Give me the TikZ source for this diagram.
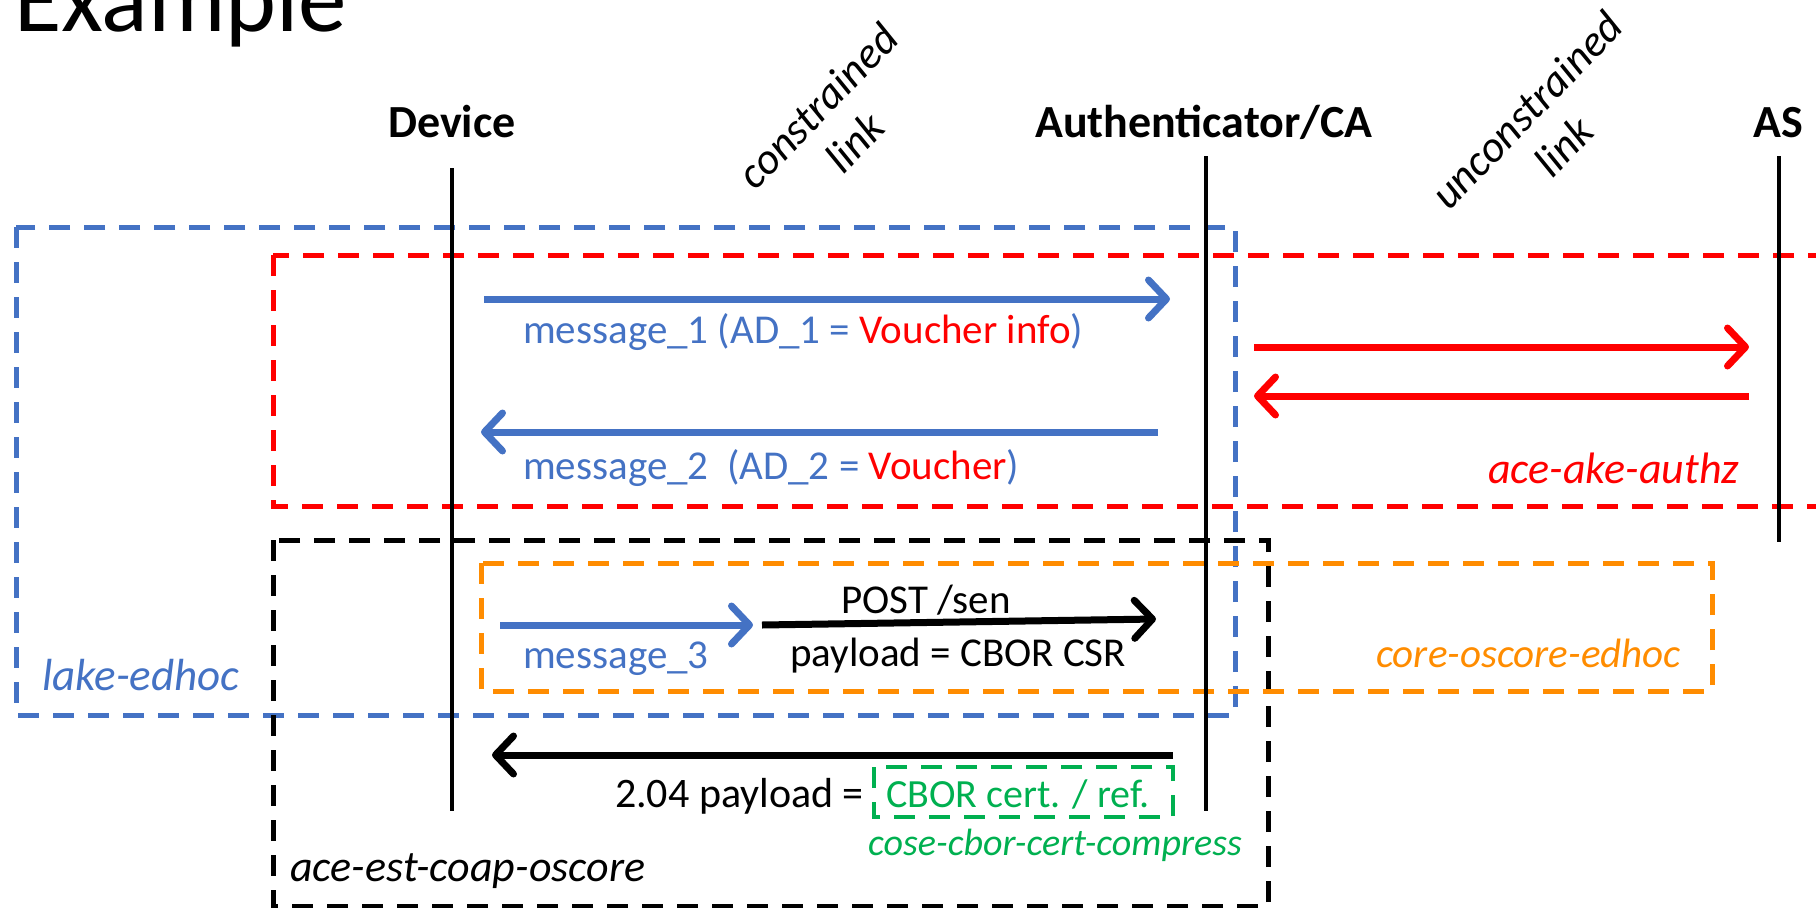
\documentclass[tikz,border=0pt]{standalone}
\usepackage{fontspec}
\setmainfont{Carlito}
\usetikzlibrary{arrows.meta}
\definecolor{eblue}{RGB}{68,114,196}
\definecolor{ered}{RGB}{255,0,0}
\definecolor{eorange}{RGB}{255,140,0}
\definecolor{egreen}{RGB}{0,176,80}
\begin{document}
\begin{tikzpicture}[x=1pt,y=-1pt,
  every node/.style={inner sep=0pt},
  txt/.style={font=\fontsize{41}{50}\selectfont, anchor=base west},
  itxt/.style={font=\fontsize{44}{52}\selectfont\itshape, anchor=base west},
  head/.style={font=\fontsize{46}{55}\selectfont\bfseries, anchor=base},
  rot/.style={font=\fontsize{44}{52}\selectfont\itshape, rotate=46, align=center},
  life/.style={line width=4pt},
  box/.style={line width=5pt, dash pattern=on 21pt off 14pt},
  msg/.style={line width=7pt, -{Straight Barb[length=18pt,width=38pt,round]}},
]
\useasboundingbox (0,0) rectangle (1816,908);
\clip (0,0) rectangle (1816,908);

% title
\node[anchor=base west, font=\fontsize{97}{110}\selectfont] (title) at (14,31) {Example};

% participants
\node[head] (dev) at (452,137) {Device};
\node[head] (auth) at (1204,137) {Authenticator/CA};
\node[head] (as) at (1778,137) {AS};

\node[rot] (cl) at (836,124) {constrained\\link};
\node[rot] (ul) at (1545,128) {unconstrained\\link};

% lifeline end points
\coordinate (devT) at (452,168);  \coordinate (devB) at (452,811);
\coordinate (authT) at (1206,156); \coordinate (authB) at (1206,811);
\coordinate (asT) at (1779,156);  \coordinate (asB) at (1779,542);

% boxes
\draw[box, eblue] (16,227) rectangle (1235,715);
\draw[box, ered] (273,255) rectangle (1850,506);
\draw[box, black] (273,540) rectangle (1268,906);
\draw[box, eorange] (481,563) rectangle (1712,691);
\draw[box, egreen, line width=4.5pt] (874,767) rectangle (1173,817);

% lifelines
\draw[life] (devT) -- (devB);
\draw[life] (authT) -- (authB);
\draw[life] (asT) -- (asB);

% message coordinates
\coordinate (m1a) at (484,299); \coordinate (m1b) at (1170,299);
\coordinate (m2a) at (1158,432); \coordinate (m2b) at (481,432);
\coordinate (r1a) at (1254,347); \coordinate (r1b) at (1749,347);
\coordinate (r2a) at (1749,396); \coordinate (r2b) at (1254,396);
\coordinate (m3a) at (500,625); \coordinate (m3b) at (753,625);
\coordinate (pa) at (762,625); \coordinate (pb) at (1156,619);
\coordinate (ca) at (1173,755); \coordinate (cb) at (492,755);

\draw[msg, eblue] (m1a) -- (m1b);
\draw[msg, eblue] (m2a) -- (m2b);
\draw[msg, ered] (r1a) -- (r1b);
\draw[msg, ered] (r2a) -- (r2b);
\draw[msg, eblue] (m3a) -- (m3b);
\draw[msg, black] (pa) -- (pb);
\draw[msg, black] (ca) -- (cb);

% labels
\node[txt, text=eblue] (m1l) at (523,343) {message\_1 (AD\_1 = \textcolor{ered}{Voucher info})};
\node[txt, text=eblue] (m2l) at (523,479) {message\_2\ \ (AD\_2 = \textcolor{ered}{Voucher})};
\node[itxt, text=ered] (akel) at (1488,483) {ace-ake-authz};
\node[txt, anchor=base] (postl) at (926,613) {POST /sen};
\node[txt] (csrl) at (790,666) {payload = CBOR CSR};
\node[txt, text=eblue] (m3l) at (523,668) {message\_3};
\node[itxt, text=eorange, font=\fontsize{41}{50}\selectfont\itshape] (corel) at (1376,667) {core-oscore-edhoc};
\node[itxt, text=eblue, font=\fontsize{45}{52}\selectfont\itshape] (lakel) at (42,690) {lake-edhoc};
\node[txt, anchor=base east, font=\fontsize{42}{50}\selectfont] (r204) at (864,807) {2.04 payload =};
\node[txt, text=egreen, font=\fontsize{40}{50}\selectfont] (certl) at (886,807) {CBOR cert. / ref.};
\node[itxt, text=egreen, font=\fontsize{38}{46}\selectfont\itshape] (cosel) at (868,855) {cose-cbor-cert-compress};
\node[itxt] (estl) at (290,881) {ace-est-coap-oscore};
\end{tikzpicture}
\end{document}
